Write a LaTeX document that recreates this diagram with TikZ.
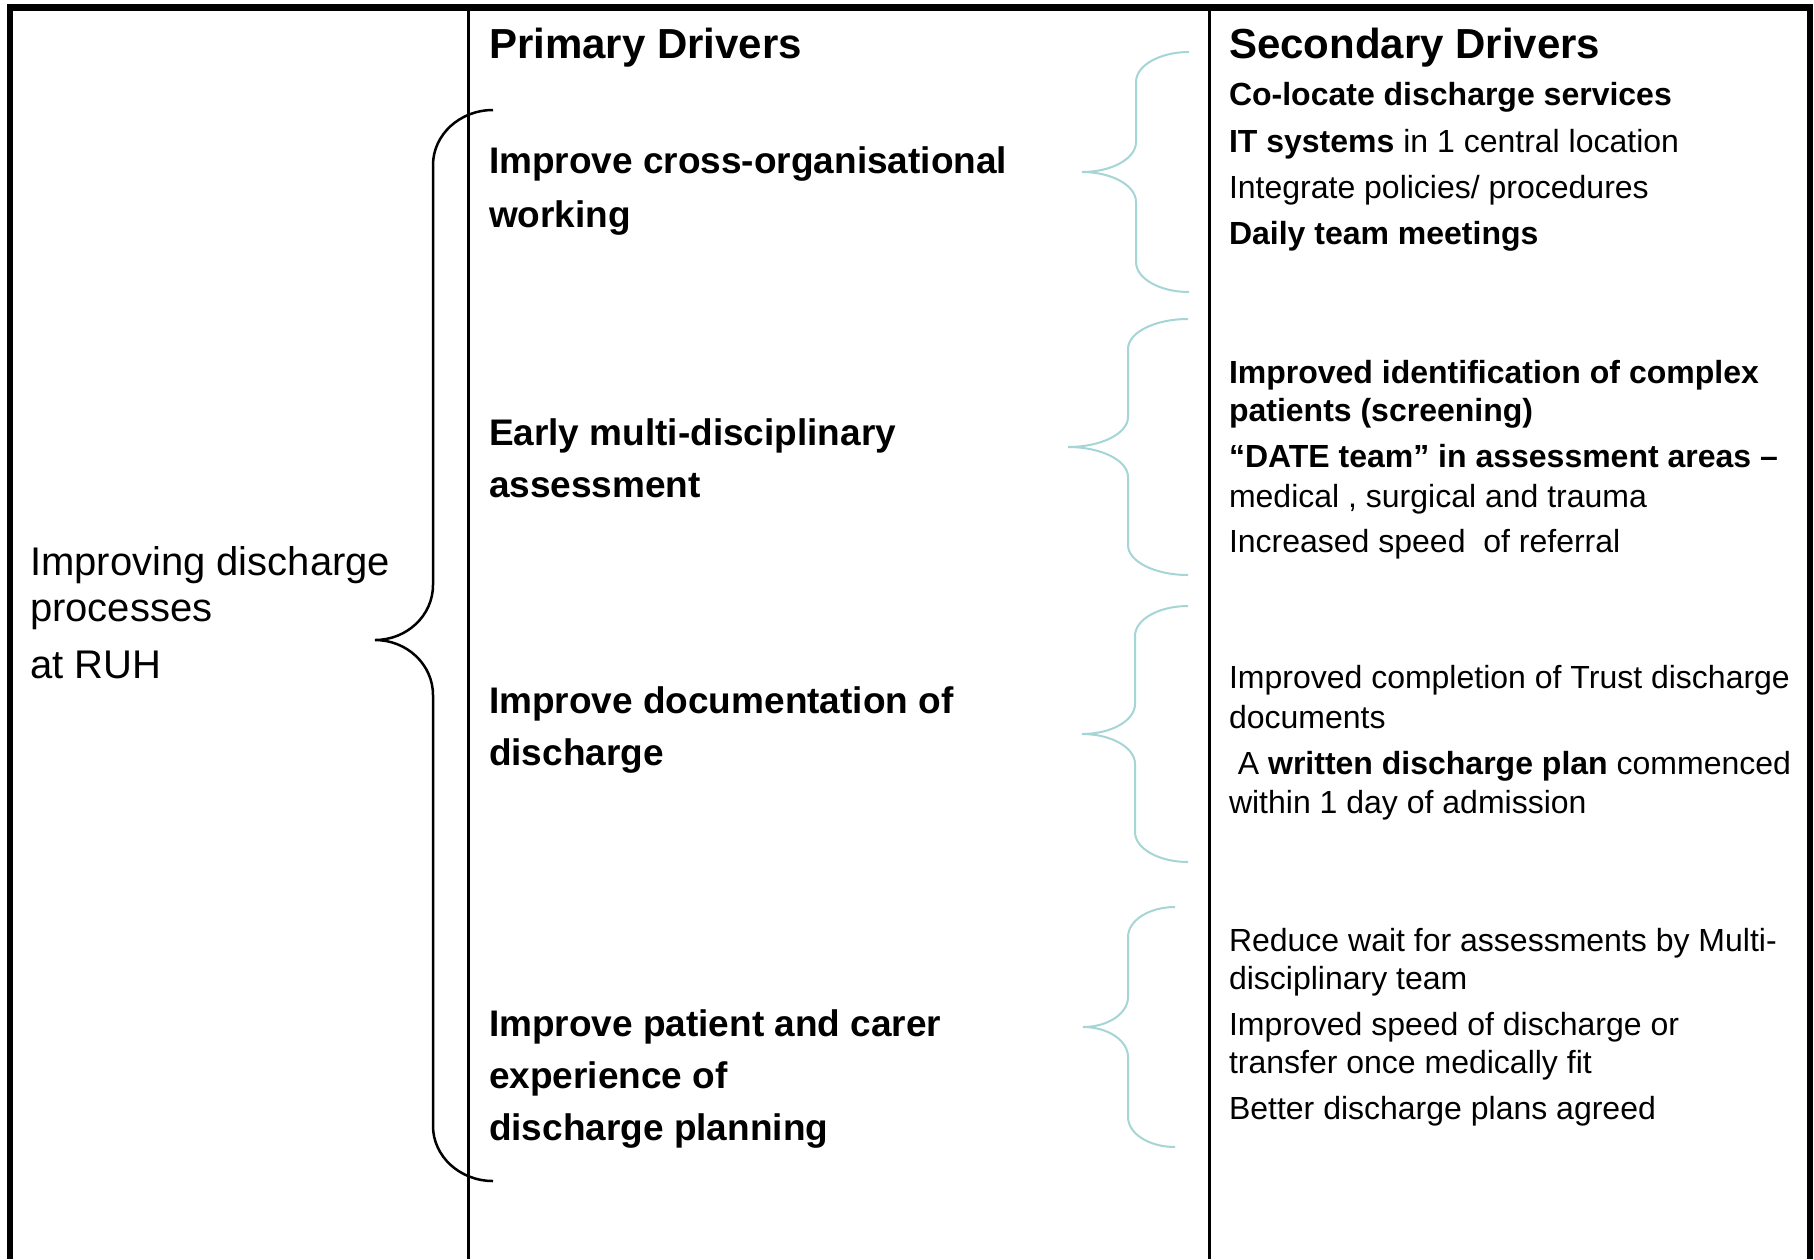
\documentclass[tikz,border=0pt]{standalone}
\usepackage{fontspec}
\setmainfont{Liberation Sans}
\definecolor{bracecol}{RGB}{166,213,214}
\newcommand{\drawbrace}[8]{%
  \pgfmathsetmacro{\brA}{#2-0.552*(#2-#3)}%
  \pgfmathsetmacro{\brB}{#5+0.448*#8}%
  \pgfmathsetmacro{\brC}{#5+#8}%
  \pgfmathsetmacro{\brD}{#6-#8}%
  \pgfmathsetmacro{\brE}{#6-0.448*#8}%
  \pgfmathsetmacro{\brF}{#4+0.552*(#3-#4)}%
  \pgfmathsetmacro{\brG}{#6+0.448*#8}%
  \pgfmathsetmacro{\brH}{#6+#8}%
  \pgfmathsetmacro{\brI}{#7-#8}%
  \pgfmathsetmacro{\brJ}{#7-0.448*#8}%
  \draw[#1] (#2,#5) .. controls (\brA,#5) and (#3,\brB) .. (#3,\brC) -- (#3,\brD)
    .. controls (#3,\brE) and (\brF,#6) .. (#4,#6)
    .. controls (\brF,#6) and (#3,\brG) .. (#3,\brH) -- (#3,\brI)
    .. controls (#3,\brJ) and (\brA,#7) .. (#2,#7);
}
\tikzset{
  txt/.style={anchor=base west, inner sep=0pt, outer sep=0pt},
  headtxt/.style={txt, font=\bfseries\fontsize{42}{50}\selectfont},
  primtxt/.style={txt, font=\bfseries\fontsize{37}{44}\selectfont},
  sectxt/.style={txt, font=\fontsize{32}{38}\selectfont},
  secbold/.style={txt, font=\bfseries\fontsize{32}{38}\selectfont},
  goaltxt/.style={txt, font=\fontsize{40}{48}\selectfont},
  blackbrace/.style={draw=black, line width=2.5pt},
  bluebrace/.style={draw=bracecol, line width=2pt},
  divider/.style={draw=black, line width=3pt},
}
\begin{document}
\begin{tikzpicture}[x=1pt,y=-1pt]
\useasboundingbox (0,0) rectangle (1814,1259);
\fill[white] (0,0) rectangle (1814,1259);
% frame
\fill[black] (7,4) rectangle (1813,11);
\fill[black] (7,4) rectangle (13,1259);
\fill[black] (1807,4) rectangle (1813,1259);
\draw[divider] (468,11) -- (468,1259);
\draw[divider] (1209,11) -- (1209,1259);

% goal
\node[goaltxt] (g1) at (30,575) {Improving discharge};
\node[goaltxt] (g2) at (30,621) {processes};
\node[goaltxt] (g3) at (30,678) {at RUH};

% headings
\node[headtxt] (ph) at (489,58) {Primary Drivers};
\node[headtxt] (sh) at (1229,58) {Secondary Drivers};

% primary drivers
\node[primtxt] (p1a) at (489,173) {Improve cross-organisational};
\node[primtxt] (p1b) at (489,227) {working};
\node[primtxt] (p2a) at (489,445) {Early multi-disciplinary};
\node[primtxt] (p2b) at (489,497) {assessment};
\node[primtxt] (p3a) at (489,713) {Improve documentation of};
\node[primtxt] (p3b) at (489,765) {discharge};
\node[primtxt] (p4a) at (489,1036) {Improve patient and carer};
\node[primtxt] (p4b) at (489,1088) {experience of};
\node[primtxt] (p4c) at (489,1140) {discharge planning};

% secondary drivers
\node[secbold] (s1a) at (1229,105) {Co-locate discharge services};
\node[sectxt] (s1b) at (1229,152) {\textbf{IT systems} in 1 central location};
\node[sectxt] (s1c) at (1229,198) {Integrate policies/ procedures};
\node[secbold] (s1d) at (1229,244) {Daily team meetings};

\node[secbold] (s2a) at (1229,383) {Improved identification of complex};
\node[secbold] (s2b) at (1229,421) {patients (screening)};
\node[secbold] (s2c) at (1229,467) {“DATE team” in assessment areas –};
\node[sectxt] (s2d) at (1229,507) {medical , surgical and trauma};
\node[sectxt] (s2e) at (1229,552) {Increased speed \ of referral};

\node[sectxt] (s3a) at (1229,688) {Improved completion of Trust discharge};
\node[sectxt] (s3b) at (1229,728) {documents};
\node[sectxt] (s3c) at (1229,774) {\ A \textbf{written discharge plan} commenced};
\node[sectxt] (s3d) at (1229,813) {within 1 day of admission};

\node[sectxt] (s4a) at (1229,951) {Reduce wait for assessments by Multi-};
\node[sectxt] (s4b) at (1229,989) {disciplinary team};
\node[sectxt] (s4c) at (1229,1035) {Improved speed of discharge or};
\node[sectxt] (s4d) at (1229,1073) {transfer once medically fit};
\node[sectxt] (s4e) at (1229,1119) {Better discharge plans agreed};

% braces
\drawbrace{blackbrace}{493}{433}{375}{110}{640}{1181}{55}
\drawbrace{bluebrace}{1189}{1136}{1082}{52}{172}{292}{30}
\drawbrace{bluebrace}{1188}{1128}{1068}{319}{447}{575}{30}
\drawbrace{bluebrace}{1188}{1135}{1082}{606}{734}{862}{30}
\drawbrace{bluebrace}{1175}{1128}{1083}{907}{1027}{1147}{30}
\end{tikzpicture}
\end{document}
